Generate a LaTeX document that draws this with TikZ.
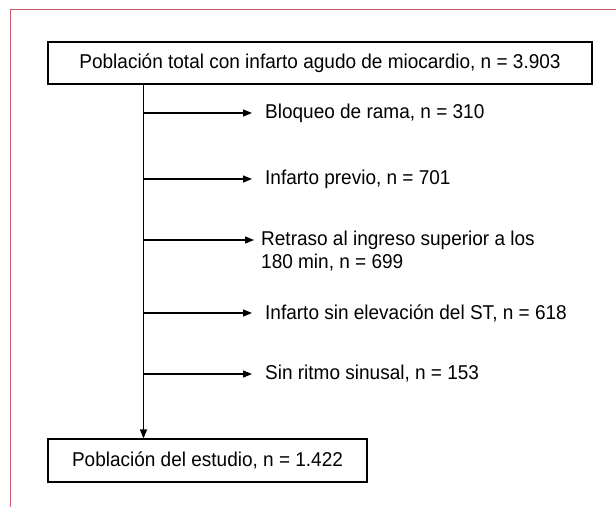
\documentclass[tikz,border=0pt]{standalone}
\usepackage{fontspec}
\setmainfont{Liberation Sans}[FakeStretch=0.95]
\usetikzlibrary{arrows.meta}
\definecolor{framecol}{RGB}{200,90,110}
\tikzset{
  box/.style={draw, line width=1.2pt, inner sep=0pt, font=\fontsize{20}{22.7}\selectfont},
  lbl/.style={anchor=west, inner sep=0pt, align=left, font=\fontsize{20}{22.7}\selectfont},
  arr/.style={line width=1.2pt, -{Triangle[length=9pt,width=7pt]}}
}
\begin{document}
\begin{tikzpicture}[x=1pt,y=-1pt]
\useasboundingbox (0,0) rectangle (616,507);
\draw[framecol, line width=1pt] (10,507) -- (10,9) -- (616,9);
\node[box, minimum width=544pt, minimum height=42pt] (top) at (320,63) {Población total con infarto agudo de miocardio, n = 3.903};
\node[box, minimum width=319pt, minimum height=43pt] (bot) at (207.5,460.5) {Población del estudio, n = 1.422};
\coordinate (s) at (143.5,85);
\draw[arr] (top.south -| s) -- (bot.north -| s);
\coordinate (b1) at (143.5,113);
\coordinate (b2) at (143.5,179);
\coordinate (b3) at (143.5,240);
\coordinate (b4) at (143.5,313);
\coordinate (b5) at (143.5,374);
\node[lbl] (l1) at (265,113) {Bloqueo de rama, n = 310};
\node[lbl] (l2) at (265,179) {Infarto previo, n = 701};
\node[lbl] (l3) at (261,251) {Retraso al ingreso superior a los\\180 min, n = 699};
\node[lbl] (l4) at (265,313) {Infarto sin elevación del ST, n = 618};
\node[lbl] (l5) at (265,374) {Sin ritmo sinusal, n = 153};
\draw[arr] (b1) -- ([xshift=-13pt]l1.west);
\draw[arr] (b2) -- ([xshift=-13pt]l2.west |- b2);
\draw[arr] (b3) -- ([xshift=-7pt]l3.west |- b3);
\draw[arr] (b4) -- ([xshift=-13pt]l4.west |- b4);
\draw[arr] (b5) -- ([xshift=-13pt]l5.west |- b5);
\end{tikzpicture}
\end{document}
